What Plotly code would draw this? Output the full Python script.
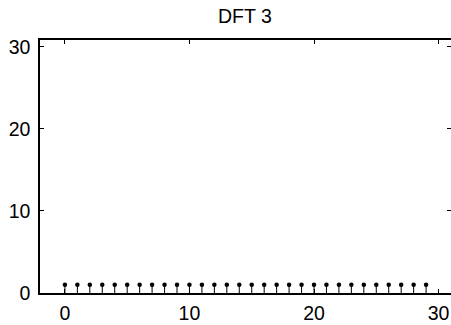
import plotly.graph_objects as go

n_idx = list(range(30))
mag = [1] * 30
x_ticks = [0, 10, 20, 30]
y_ticks = [0, 10, 20, 30]
title = "DFT 3"
x_range = [-2, 31]
y_range = [0, 30.85]

# build stems via None separators
sx, sy = [], []
for xi, yi in zip(n_idx, mag):
    sx += [xi, xi, None]
    sy += [0, yi, None]

fig = go.Figure()
fig.add_trace(go.Scatter(x=sx, y=sy, mode="lines",
                         line=dict(color="black", width=1), hoverinfo="skip"))
fig.add_trace(go.Scatter(x=n_idx, y=mag, mode="markers",
                         marker=dict(color="black", size=4.5)))
# invisible trace so the mirrored (top/right) axes are drawn
fig.add_trace(go.Scatter(x=n_idx, y=mag, mode="markers", xaxis="x2", yaxis="y2",
                         marker=dict(opacity=0), hoverinfo="skip"))

font = dict(family="Liberation Sans, Arial", size=19.5, color="black")
common = dict(showgrid=False, zeroline=False, ticks="inside", ticklen=4,
              tickcolor="black", linecolor="black", linewidth=1.5, mirror=False)

fig.update_layout(
    width=451, height=325,
    margin=dict(l=40, r=0, t=40, b=32),
    plot_bgcolor="white", paper_bgcolor="white",
    showlegend=False,
    xaxis=dict(range=x_range, tickvals=x_ticks, showline=True, tickfont=font,
               ticklabelstandoff=2, **common),
    yaxis=dict(range=y_range, tickvals=y_ticks, showline=True, tickfont=font,
               ticklabelstandoff=4, **common),
    xaxis2=dict(range=x_range, tickvals=x_ticks, showline=True, showticklabels=False,
                overlaying="x", side="top", anchor="y2", **common),
    yaxis2=dict(range=y_range, tickvals=y_ticks, showline=False, showticklabels=False,
                overlaying="y", side="right", anchor="x2", **common),
    title=dict(text=title, x=0.543, xanchor="center", y=0.95, yanchor="middle",
               font=font),
)
fig.write_html("out.html")
